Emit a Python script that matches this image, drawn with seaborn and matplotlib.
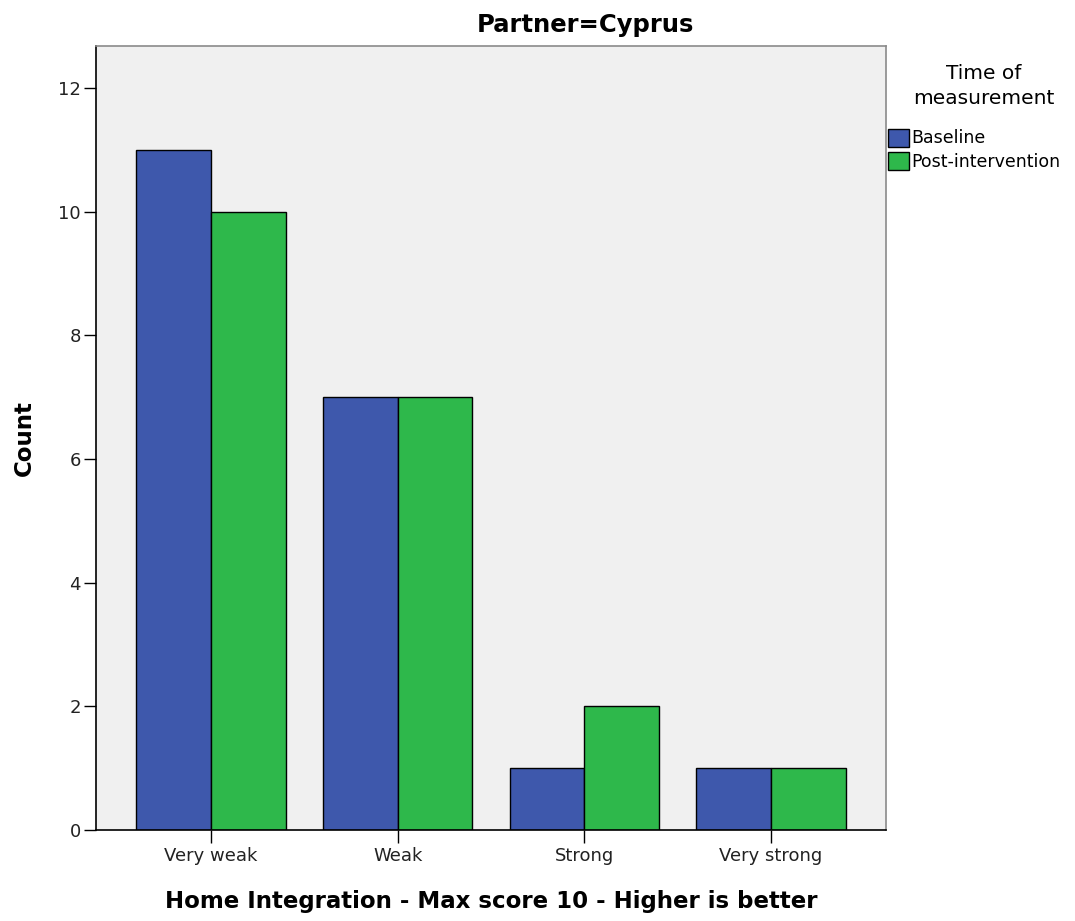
import numpy as np
import pandas as pd
import seaborn as sns
import matplotlib.pyplot as plt
from matplotlib.patches import Patch

# values
categories = ["Very weak", "Weak", "Strong", "Very strong"]
baseline = [11, 7, 1, 1]
post = [10, 7, 2, 1]
groups = ["Baseline", "Post-intervention"]
colors = ["#3e58ac", "#2eb84b"]

df = pd.DataFrame({
    "category": categories * 2,
    "count": baseline + post,
    "time": [groups[0]] * 4 + [groups[1]] * 4,
})

sns.set_style("white")
plt.rcParams["font.family"] = ["DejaVu Sans"]
plt.rcParams["text.color"] = "black"

fig = plt.figure(figsize=(10.75, 9.21), dpi=100)
ax = fig.add_axes([0.0893, 0.0988, 0.7349, 0.8512])
ax.set_facecolor("#f0f0f0")

sns.barplot(data=df, x="category", y="count", hue="time", order=categories,
            hue_order=groups, palette=colors, width=0.8, edgecolor="black",
            linewidth=1, saturation=1, ax=ax, legend=False)

ax.set_xlim(-0.616, 3.616)
ax.set_ylim(0, 12.68)
ax.set_yticks([0, 2, 4, 6, 8, 10, 12])
ax.tick_params(axis="both", direction="out", length=9, width=1, color="black",
               labelcolor="#222222", labelsize=13, left=True, bottom=True, pad=2)
ax.tick_params(axis="x", pad=3)
for s in ["left", "bottom"]:
    ax.spines[s].set_color("black")
    ax.spines[s].set_linewidth(1.2)
for s in ["top", "right"]:
    ax.spines[s].set_color("#8a8a8a")
    ax.spines[s].set_linewidth(1.2)

ax.set_xlabel("Home Integration - Max score 10 - Higher is better",
              fontsize=16.5, fontweight="bold", labelpad=18, color="black")
ax.set_ylabel("Count", fontsize=16.5, fontweight="bold", labelpad=16, color="black")
fig.text(585 / 1075, 1 - 25 / 921, "Partner=Cyprus", fontsize=17.5, fontweight="bold",
         ha="center", va="center")

fig.text(984 / 1075, 1 - 86 / 921, "Time of\nmeasurement", fontsize=14.5,
         ha="center", va="center", multialignment="center", linespacing=1.35)
handles = [Patch(facecolor=c, edgecolor="black", label=g) for c, g in zip(colors, groups)]
fig.legend(handles=handles, loc="upper left",
           bbox_to_anchor=(886 / 1075, 1 - 127 / 921), frameon=False, fontsize=12.5,
           handlelength=1.2, handleheight=1.2, handletextpad=0.15,
           labelspacing=0.25, borderaxespad=0, borderpad=0.1)

fig.savefig("out.png", dpi=100)
